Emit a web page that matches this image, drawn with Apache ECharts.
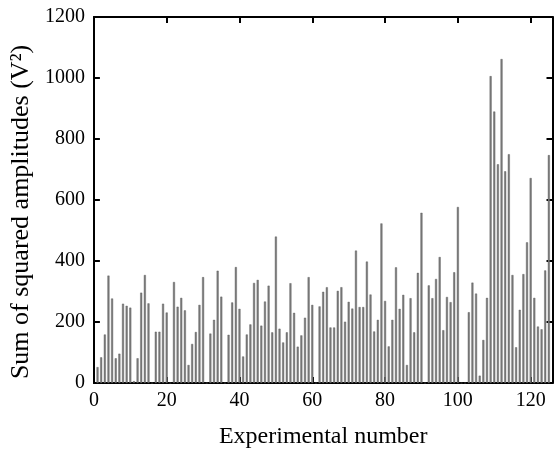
<!DOCTYPE html>
<html>
<head>
<meta charset="utf-8">
<script src="https://cdn.jsdelivr.net/npm/echarts@6/dist/echarts.min.js"></script>
<style>
html,body{margin:0;padding:0;background:#fff;}
#chart{width:554px;height:454px;}
</style>
</head>
<body>
<div id="chart"></div>
<script>
// Sum of squared amplitudes for experiments 1..125 (0 = no bar)
const sums = [
  52, 84, 159, 352, 277, 81, 96, 260, 253, 247,
  6, 81, 296, 354, 261, 0, 168, 168, 260, 231,
  0, 331, 250, 279, 238, 59, 128, 167, 256, 347,
  0, 162, 207, 368, 283, 0, 158, 264, 380, 243,
  87, 159, 192, 328, 338, 188, 267, 319, 166, 480,
  178, 133, 166, 327, 230, 119, 156, 214, 347, 256,
  0, 251, 299, 314, 182, 182, 302, 314, 201, 266,
  244, 434, 249, 249, 398, 290, 169, 207, 523, 269,
  120, 207, 379, 243, 289, 59, 278, 166, 361, 558,
  0, 320, 278, 341, 413, 173, 282, 265, 363, 577,
  0, 0, 232, 329, 293, 24, 141, 279, 1006, 890,
  717, 1062, 694, 750, 354, 117, 240, 357, 461, 672,
  279, 185, 176, 369, 747
];
const expNumbers = sums.map((_, i) => i + 1);
const xTicks = [0, 20, 40, 60, 80, 100, 120];
const yTicks = [0, 200, 400, 600, 800, 1000, 1200];

const barData = expNumbers.map((n, i) => [n, sums[i]]);
const font = '"Liberation Serif", "Times New Roman", serif';
const axisLine = { show: true, onZero: false, lineStyle: { color: '#000', width: 2 } };
const axisTick = { show: true, inside: true, length: 6, lineStyle: { color: '#000', width: 2 } };

const chart = echarts.init(document.getElementById('chart'), null, { renderer: 'canvas' });
chart.setOption({
  animation: false,
  backgroundColor: '#fff',
  grid: { left: 93, right: 1.5, top: 17, bottom: 68, containLabel: false },
  xAxis: [
    {
      type: 'value', position: 'bottom',
      min: xTicks[0], max: 126, interval: xTicks[1] - xTicks[0],
      axisLine, axisTick, splitLine: { show: false },
      axisLabel: { color: '#000', fontFamily: font, fontSize: 20, margin: 8, showMaxLabel: false,
        formatter: v => String(v) },
      name: 'Experimental number', nameLocation: 'middle', nameGap: 42,
      nameTextStyle: { color: '#000', fontFamily: font, fontSize: 24 }
    },
    {
      type: 'value', position: 'top',
      min: xTicks[0], max: 126, interval: xTicks[1] - xTicks[0],
      axisLine, axisTick, splitLine: { show: false },
      axisLabel: { show: false }
    }
  ],
  yAxis: [
    {
      type: 'value', position: 'left',
      min: yTicks[0], max: yTicks[yTicks.length - 1], interval: yTicks[1] - yTicks[0],
      axisLine, axisTick, splitLine: { show: false },
      axisLabel: { color: '#000', fontFamily: font, fontSize: 20, margin: 9,
        formatter: v => String(v) },
      name: 'Sum of squared amplitudes (V²)', nameLocation: 'middle', nameGap: 55,
      nameRotate: 90,
      nameTextStyle: { color: '#000', fontFamily: font, fontSize: 26, padding: [0, 24, 0, 0] }
    },
    {
      type: 'value', position: 'right',
      min: yTicks[0], max: yTicks[yTicks.length - 1], interval: yTicks[1] - yTicks[0],
      axisLine, axisTick, splitLine: { show: false },
      axisLabel: { show: false }
    }
  ],
  series: [
    {
      type: 'bar',
      xAxisIndex: 0, yAxisIndex: 0,
      data: barData,
      barWidth: 2,
      itemStyle: { color: '#7c7c7c', borderColor: '#555', borderWidth: 0.4 },
      silent: true
    }
  ]
});
</script>
</body>
</html>
